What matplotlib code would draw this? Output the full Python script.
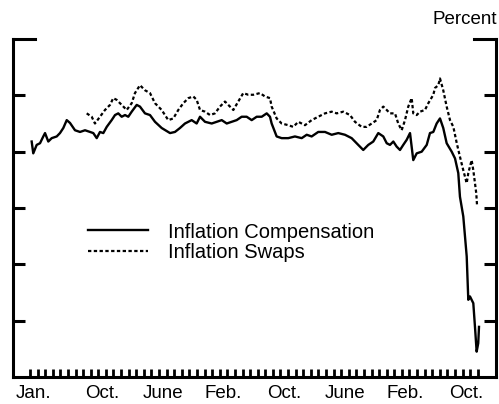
import matplotlib
matplotlib.use("Agg")
import matplotlib.pyplot as plt
from matplotlib.lines import Line2D

plt.rcParams['font.family'] = ['Liberation Sans', 'DejaVu Sans']

# months since Jan. 2004 (tick marks sit at month starts)
comp_month = [0.22, 0.43, 0.88, 1.32, 1.75, 1.98, 2.41, 2.86, 3.52, 3.95, 4.39, 4.84, 5.27, 5.93,
              6.59, 7.25, 7.91, 8.34, 8.79, 9.22, 9.66, 10.11, 10.76, 11.20, 11.63, 12.08, 12.52,
              12.95, 13.40, 14.06, 14.49, 15.15, 15.81, 16.47, 17.35, 18.45, 19.10, 19.76, 20.42,
              21.30, 21.96, 22.40, 23.06, 23.94, 24.60, 25.26, 25.92, 26.57, 27.23, 27.89, 28.55,
              29.21, 29.87, 30.53, 31.19, 31.62, 31.84, 32.50, 33.16, 34.03, 34.91, 35.80, 36.46,
              37.11, 37.98, 38.87, 39.75, 40.62, 41.50, 42.38, 43.25, 43.91, 44.57, 45.23, 45.89,
              46.55, 47.00, 47.43, 47.87, 48.31, 48.75, 49.18, 49.63, 50.07, 50.50, 50.95, 51.61,
              52.27, 52.70, 53.14, 53.58, 54.02, 54.45, 54.90, 55.56, 56.00, 56.43, 56.65, 57.09,
              57.54, 57.75, 57.97, 58.41, 58.63, 58.85, 59.06, 59.16]
comp_value = [4.18, 3.97, 4.12, 4.15, 4.27, 4.33, 4.18, 4.24, 4.27, 4.33, 4.42, 4.56, 4.51, 4.38,
              4.35, 4.38, 4.35, 4.33, 4.24, 4.35, 4.33, 4.44, 4.56, 4.65, 4.68, 4.62, 4.65,
              4.62, 4.71, 4.83, 4.80, 4.68, 4.65, 4.53, 4.42, 4.33, 4.35, 4.42, 4.50,
              4.56, 4.50, 4.62, 4.53, 4.50, 4.53, 4.56, 4.50, 4.53, 4.56, 4.62, 4.62,
              4.56, 4.62, 4.62, 4.68, 4.62, 4.50, 4.27, 4.24, 4.24, 4.27, 4.24, 4.30,
              4.27, 4.35, 4.35, 4.30, 4.33, 4.30, 4.24, 4.12, 4.03, 4.12, 4.18, 4.33,
              4.27, 4.15, 4.12, 4.18, 4.09, 4.03, 4.12, 4.21, 4.33, 3.85, 3.97, 4.00,
              4.12, 4.33, 4.35, 4.50, 4.59, 4.42, 4.15, 4.00, 3.88, 3.62, 3.20, 2.85,
              2.14, 1.37, 1.43, 1.31, 0.89, 0.45, 0.60, 0.89]

swap_month = [7.47, 8.13, 8.56, 9.22, 9.88, 10.54, 10.97, 11.42, 12.08, 12.74, 13.40, 13.83, 14.49,
              15.15, 15.81, 16.47, 17.35, 18.22, 18.88, 19.54, 20.20, 20.86, 21.52, 21.96, 22.40,
              23.06, 23.72, 24.37, 25.03, 25.69, 26.35, 26.79, 27.44, 28.10, 28.76, 29.42, 30.30,
              30.96, 31.62, 31.84, 32.50, 33.16, 34.03, 34.69, 35.35, 36.23, 37.11, 37.98, 38.87,
              39.75, 40.41, 41.28, 42.16, 42.82, 43.70, 44.36, 45.02, 45.68, 46.11, 46.55, 47.00,
              47.43, 48.09, 48.52, 48.97, 49.41, 49.84, 50.29, 50.50, 50.95, 51.38, 52.04, 52.48,
              53.14, 53.36, 53.80, 54.02, 54.45, 54.90, 55.34, 55.78, 56.23, 56.65, 57.09, 57.54,
              57.75, 58.19, 58.41, 58.63, 58.80, 58.90]
swap_value = [4.68, 4.62, 4.50, 4.62, 4.74, 4.83, 4.95, 4.92, 4.83, 4.74, 4.86, 5.04, 5.18,
              5.09, 5.04, 4.86, 4.74, 4.56, 4.59, 4.74, 4.86, 4.95, 4.98, 4.92, 4.74,
              4.71, 4.65, 4.68, 4.80, 4.89, 4.80, 4.74, 4.89, 5.04, 5.01, 5.01, 5.04,
              4.98, 4.95, 4.80, 4.59, 4.50, 4.47, 4.44, 4.53, 4.47, 4.56, 4.62, 4.68,
              4.71, 4.68, 4.71, 4.65, 4.53, 4.44, 4.44, 4.50, 4.56, 4.74, 4.80, 4.74,
              4.68, 4.68, 4.50, 4.38, 4.56, 4.80, 4.95, 4.68, 4.65, 4.71, 4.74, 4.86,
              5.01, 5.13, 5.18, 5.30, 5.09, 4.80, 4.56, 4.44, 4.15, 3.91, 3.67, 3.44,
              3.62, 3.85, 3.67, 3.44, 3.26, 3.05]

label_months = [0, 9, 17, 25, 33, 41, 49, 57]
label_names = ['Jan.', 'Oct.', 'June', 'Feb.', 'Oct.', 'June', 'Feb.', 'Oct.']
n_month_ticks = 60
y_ticks = [1, 2, 3, 4, 5]

fs = 13.5
fig = plt.figure(figsize=(4.99, 4.04), dpi=100)
ax = fig.add_axes([13 / 499, 27 / 404, 483 / 499, 338 / 404])

ax.plot(comp_month, comp_value, color='black', lw=1.7, label='Inflation Compensation')
ax.plot(swap_month, swap_value, color='black', lw=1.6, linestyle=(0, (1.5, 1.1)),
        label='Inflation Swaps')

ax.set_xlim(-2.24, 61.4)
ax.set_ylim(0, 6)

# spines: full left/right/bottom, only short stubs on top
ax.spines['top'].set_visible(False)
for s in ['left', 'right', 'bottom']:
    ax.spines[s].set_linewidth(2.2)
stub = 22 / 483
ax.add_line(Line2D([0, stub], [1, 1], transform=ax.transAxes, color='black', lw=2.2,
                   solid_capstyle='projecting', clip_on=False))
ax.add_line(Line2D([1 - stub, 1], [1, 1], transform=ax.transAxes, color='black', lw=2.2,
                   solid_capstyle='projecting', clip_on=False))

ax.set_yticks(y_ticks)
ax.set_yticklabels([])
ax.tick_params(axis='y', which='major', direction='in', length=8.6, width=2.2,
               left=True, right=True)

ax.set_xticks([m + 0.5 for m in label_months])
ax.set_xticklabels(label_names, fontsize=fs)
ax.set_xticks(list(range(n_month_ticks)), minor=True)
ax.tick_params(axis='x', which='major', length=0, pad=6)
ax.tick_params(axis='x', which='minor', direction='in', length=5.5, width=2)

ax.legend(loc='upper left', bbox_to_anchor=(0.155, 0.457), frameon=False, fontsize=14.5,
          borderpad=0, borderaxespad=0, handlelength=3.0, handletextpad=1.0,
          labelspacing=0.06)

fig.text(497 / 499, 1 - 20 / 404, 'Percent', ha='right', va='center', fontsize=fs)

fig.savefig('out.png', dpi=100)
